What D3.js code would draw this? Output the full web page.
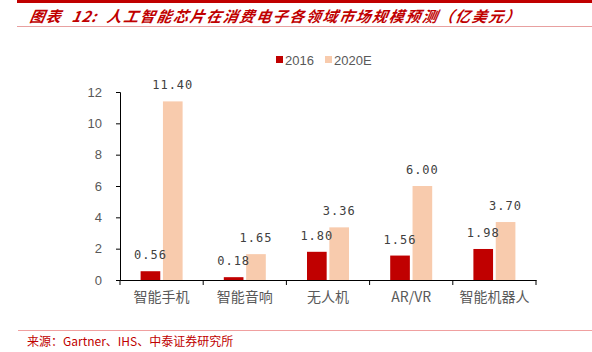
<!DOCTYPE html>
<html>
<head>
<meta charset="utf-8">
<script src="https://cdn.jsdelivr.net/npm/d3@7"></script>
<style>
  body { margin: 0; background: #fff; }
  svg { display: block; font-family: "Noto Sans CJK SC", "Noto Sans", sans-serif; }
</style>
</head>
<body>
<div id="chart"></div>
<script>
const categories = ['智能手机', '智能音响', '无人机', 'AR/VR', '智能机器人']
const series = ['2016', '2020E']
const values2016 = [0.56, 0.18, 1.80, 1.56, 1.98]
const values2020 = [11.40, 1.65, 3.36, 6.00, 3.70]
const yTicks = [0, 2, 4, 6, 8, 10, 12]

const COLORS = { '2016': '#C00000', '2020E': '#F8CBAD' }
const WIDTH = 592, HEIGHT = 352
const PLOT = { left: 120, right: 536, top: 92, bottom: 280 }

const svg = d3.select('#chart').append('svg').attr('width', WIDTH).attr('height', HEIGHT)

// ── header / footer ─────────────────────────────────────────────
svg.append('line').attr('x1', 17).attr('x2', WIDTH).attr('y1', 1.5).attr('y2', 1.5)
  .attr('stroke', '#C00000').attr('stroke-width', 3)
const title = svg.append('text').attr('y', 22)
  .attr('fill', '#C00000').style('font-size', '15px').style('font-style', 'italic').style('font-weight', 'bold')
  .attr('transform', 'skewX(-10) translate(4,0)')
title.append('tspan').attr('x', 29).style('letter-spacing', '1px').text('图表')
title.append('tspan').attr('x', 71).style('letter-spacing', '1px').text('12:')
title.append('tspan').attr('x', 106).style('letter-spacing', '1.6px').text('人工智能芯片在消费电子各领域市场规模预测（亿美元）')
svg.append('line').attr('x1', 17).attr('x2', WIDTH).attr('y1', 26.5).attr('y2', 26.5)
  .attr('stroke', '#E8A0A0').attr('stroke-width', 1)

svg.append('line').attr('x1', 18).attr('x2', WIDTH).attr('y1', 330.5).attr('y2', 330.5)
  .attr('stroke', '#F0A0A0').attr('stroke-width', 1)
const foot = svg.append('text').attr('y', 346).attr('fill', '#C00000').style('font-size', '12px')
foot.append('tspan').attr('x', 27).text('来源：')
foot.append('tspan').attr('x', 63).text('Gartner、IHS、中泰证券研究所')

// ── scales ──────────────────────────────────────────────────────
const x = d3.scaleBand().domain(categories).range([PLOT.left, PLOT.right]).padding(0)
const xSub = d3.scaleBand().domain(series).range([0, 42]).paddingInner(0.12)
const y = d3.scaleLinear().domain([0, 12]).range([PLOT.bottom, PLOT.top])

const rows = categories.map((c, i) => ({ cat: c, vals: [
  { key: '2016', value: values2016[i] },
  { key: '2020E', value: values2020[i] },
] }))

const g = svg.append('g')
const groups = g.selectAll('g.grp').data(rows).join('g').attr('class', 'grp')
  .attr('transform', d => `translate(${x(d.cat) + x.bandwidth() / 2 - 21},0)`)

groups.selectAll('rect').data(d => d.vals).join('rect')
  .attr('x', d => xSub(d.key))
  .attr('y', d => y(d.value))
  .attr('width', xSub.bandwidth())
  .attr('height', d => y(0) - y(d.value))
  .attr('fill', d => COLORS[d.key])

groups.selectAll('text').data(d => d.vals).join('text')
  .attr('x', d => xSub(d.key) + xSub.bandwidth() / 2)
  .attr('y', d => y(d.value) - 12)
  .attr('text-anchor', 'middle')
  .attr('fill', '#404040').style('font-size', '12px').style('letter-spacing', '1px')
  .style('font-family', '"DejaVu Sans Mono", monospace')
  .text(d => d.value.toFixed(2))

// ── axes ────────────────────────────────────────────────────────
const xAxis = svg.append('g').attr('transform', `translate(0,${PLOT.bottom})`)
  .call(d3.axisBottom(x).tickSize(0).tickPadding(12))
xAxis.select('.domain').attr('stroke', '#000')
xAxis.selectAll('text').attr('fill', '#595959').style('font-size', '14px')
  .style('font-family', '"Noto Sans CJK SC", sans-serif')
xAxis.selectAll('.sep').data(d3.range(categories.length + 1)).join('line').attr('class', 'sep')
  .attr('x1', i => PLOT.left + i * x.step()).attr('x2', i => PLOT.left + i * x.step())
  .attr('y1', 0).attr('y2', 5).attr('stroke', '#000')

const yAxis = svg.append('g').attr('transform', `translate(${PLOT.left},0)`)
  .call(d3.axisLeft(y).tickValues(yTicks).tickSize(4).tickPadding(14).tickFormat(d3.format('d')))
yAxis.select('.domain').attr('stroke', '#000')
yAxis.selectAll('line').attr('stroke', '#000')
yAxis.selectAll('text').attr('fill', '#595959').style('font-size', '13px')
  .style('font-family', '"Liberation Sans", sans-serif')

// ── legend ──────────────────────────────────────────────────────
const legend = svg.append('g').attr('transform', 'translate(276,61)')
const item = legend.selectAll('g').data(series).join('g')
  .attr('transform', (d, i) => `translate(${i * 49},0)`)
item.append('rect').attr('x', 0).attr('y', -5).attr('width', 7).attr('height', 7)
  .attr('fill', d => COLORS[d])
item.append('text').attr('x', 9).attr('y', 4).attr('fill', '#595959')
  .style('font-size', '13px').style('font-family', '"Liberation Sans", sans-serif')
  .text(d => d)
</script>
</body>
</html>
